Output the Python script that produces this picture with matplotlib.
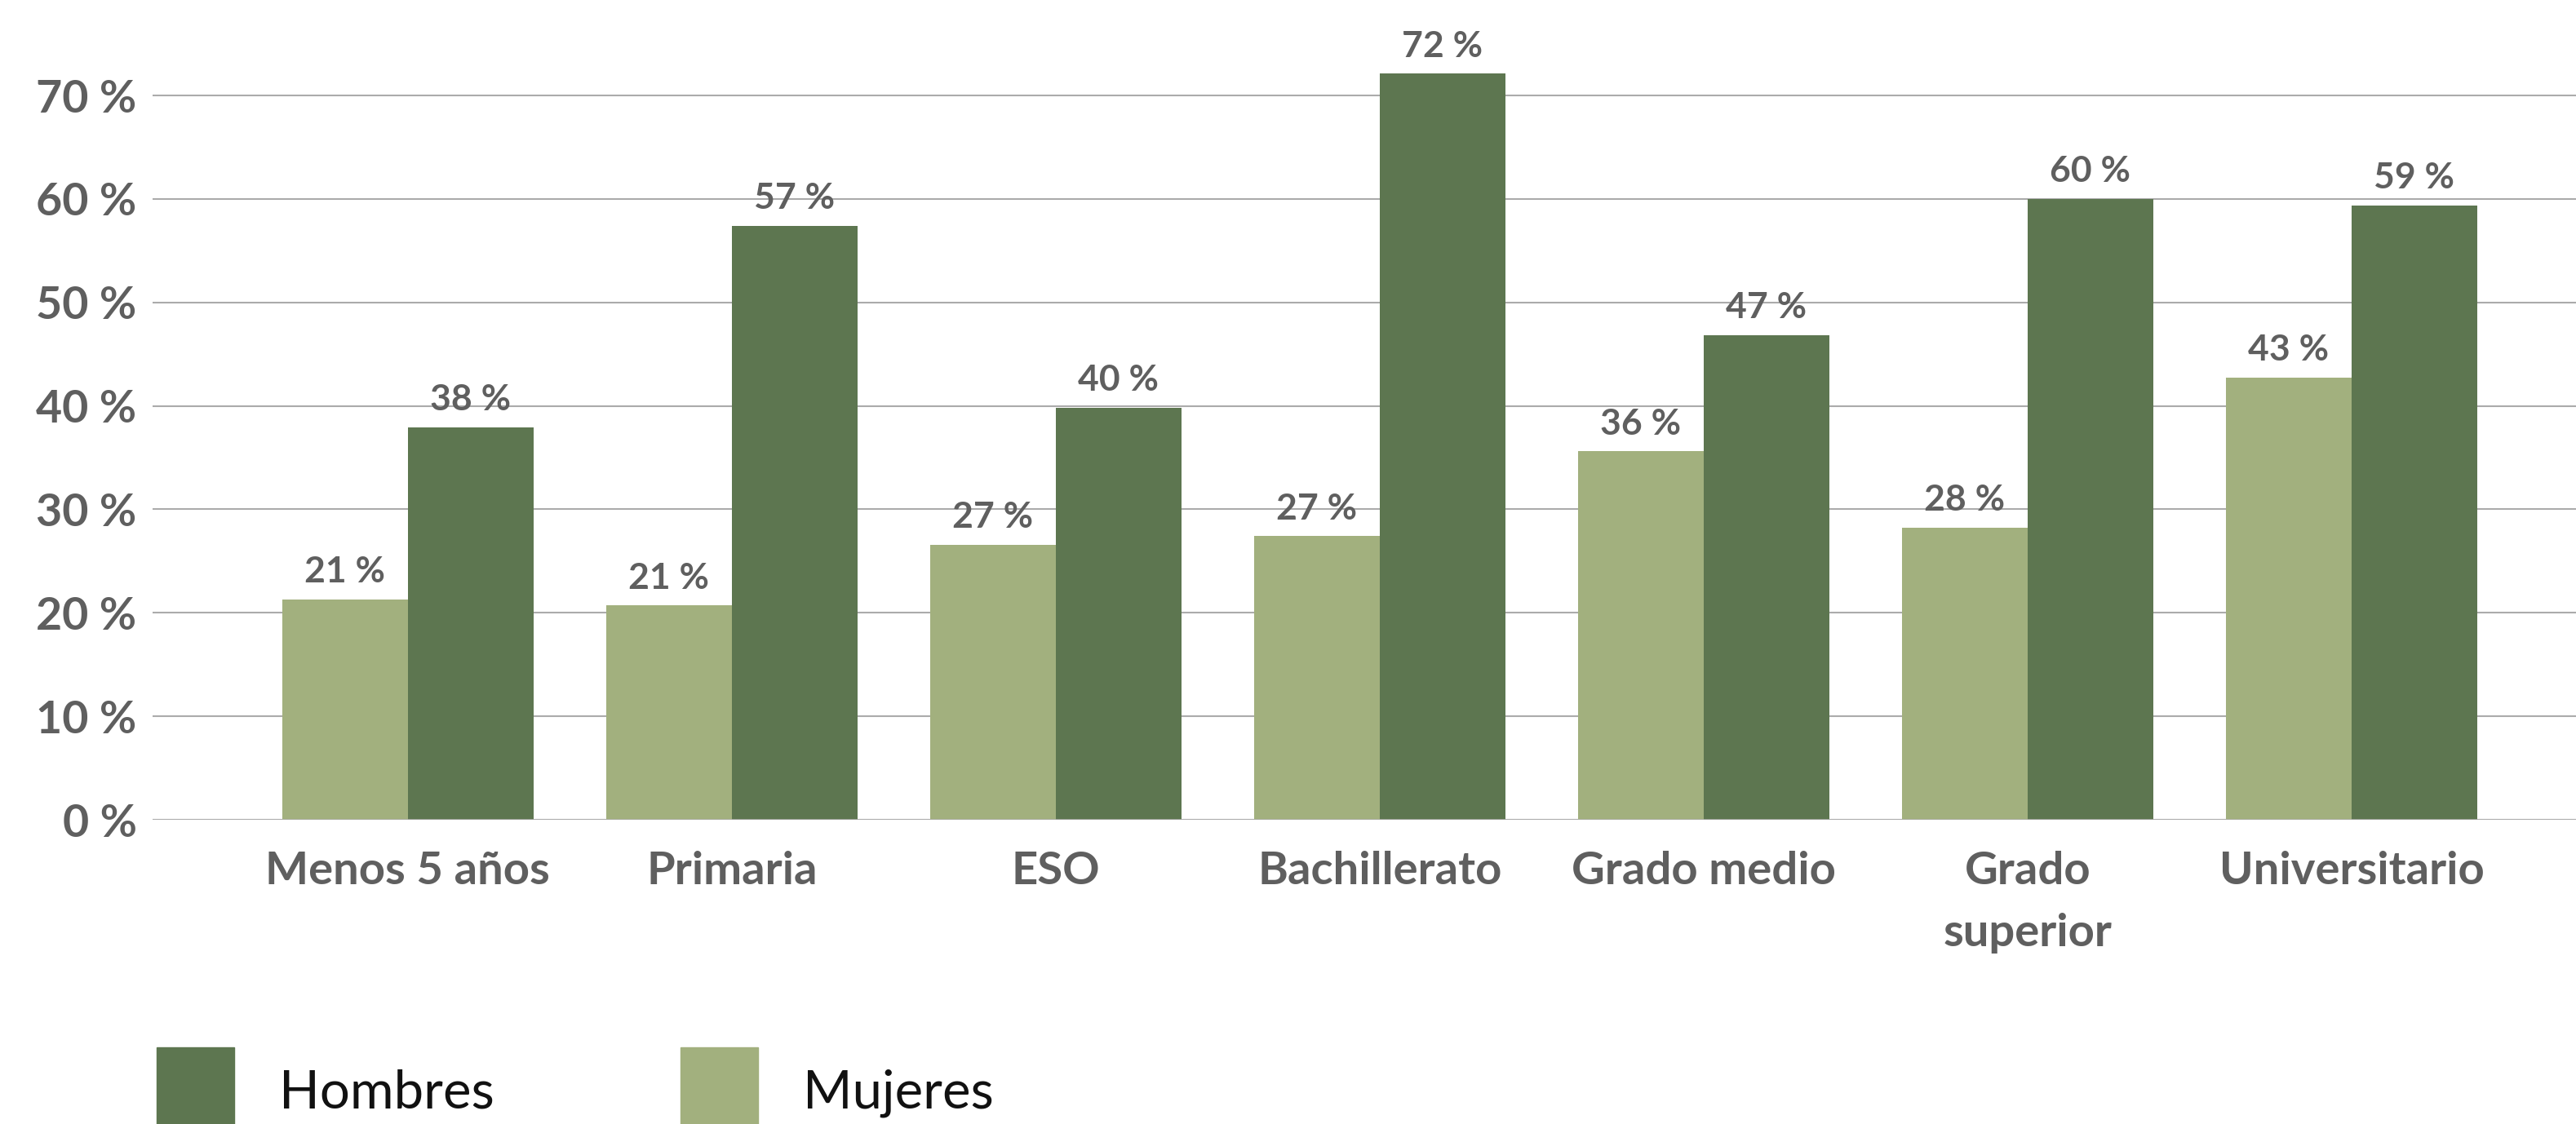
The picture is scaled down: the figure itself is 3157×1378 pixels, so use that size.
import matplotlib
matplotlib.use("Agg")
import matplotlib.pyplot as plt
import numpy as np
from matplotlib.patches import Patch

categories = ["Menos 5 años", "Primaria", "ESO", "Bachillerato",
              "Grado medio", "Grado\nsuperior", "Universitario"]
mujeres = [21.3, 20.7, 26.6, 27.4, 35.6, 28.2, 42.7]
hombres = [37.9, 57.4, 39.8, 72.1, 46.8, 60.0, 59.4]
yticks = [0, 10, 20, 30, 40, 50, 60, 70]

C_HOM = "#5d7650"
C_MUJ = "#a2b07e"
C_TXT = "#5f5f5f"
FONT = "Lato"

W, H, DPI = 3157, 1378, 100
fig = plt.figure(figsize=(W / DPI, H / DPI), dpi=DPI)
ax = fig.add_axes([187 / W, 1 - 1005 / H, 1 - 187 / W, (1005 - 41) / H])

x = np.arange(len(categories))
bw = 0.388
b_m = ax.bar(x - bw / 2, mujeres, bw, color=C_MUJ, zorder=3)
b_h = ax.bar(x + bw / 2, hombres, bw, color=C_HOM, zorder=3)

for bars, vals in ((b_m, mujeres), (b_h, hombres)):
    for r, v in zip(bars, vals):
        ax.annotate(f"{v:.0f} %", (r.get_x() + r.get_width() / 2, v),
                    xytext=(0, 10), textcoords="offset points",
                    ha="center", va="bottom", fontsize=32, fontweight="bold",
                    color=C_TXT, family=FONT)

ax.set_xlim(-0.788, 6.693)
ax.set_ylim(0, 76)
ax.set_yticks(yticks)
ax.set_yticklabels([f"{t} %" for t in yticks])
ax.set_xticks(x)
ax.set_xticklabels(categories, linespacing=1.65)
ax.yaxis.grid(True, color="#ababab", lw=1.5, zorder=0)
ax.set_axisbelow(True)
for s in ax.spines.values():
    s.set_visible(False)
ax.axhline(0, color="#ababab", lw=1.8, zorder=4)
ax.tick_params(axis="both", length=0, colors=C_TXT)
ax.tick_params(axis="y", pad=14)
ax.tick_params(axis="x", pad=27)
for lab in ax.get_yticklabels() + ax.get_xticklabels():
    lab.set_family(FONT)
    lab.set_fontweight("bold")
for lab in ax.get_yticklabels():
    lab.set_fontsize(40)
for lab in ax.get_xticklabels():
    lab.set_fontsize(40.5)

handles = [Patch(color=C_HOM, label="Hombres"), Patch(color=C_MUJ, label="Mujeres")]
fig.legend(handles=handles, loc="upper left", bbox_to_anchor=(192 / W, 1 - 1284 / H),
           ncol=2, frameon=False, labelcolor="#111111",
           prop={"family": FONT, "weight": "normal", "size": 47},
           handlelength=1.45, handleheight=2.17, handletextpad=0.85,
           columnspacing=3.5, borderpad=0, borderaxespad=0)

fig.savefig("out.png", dpi=DPI)
